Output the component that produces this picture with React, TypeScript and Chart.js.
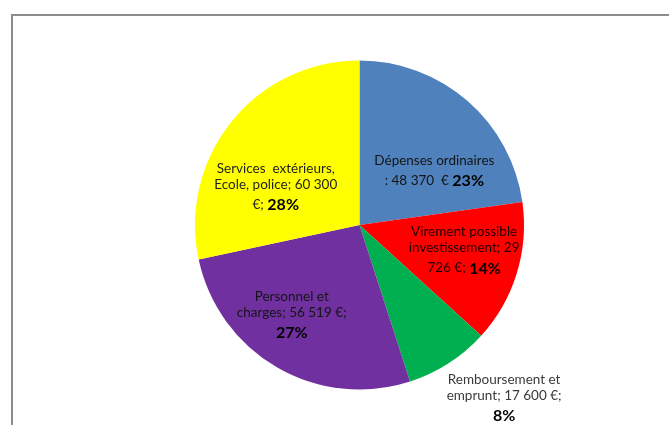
import React, { useEffect, useRef } from "react";
import { Chart, registerables } from "chart.js";

Chart.register(...registerables);

const categories = [
  "Dépenses ordinaires",
  "Virement possible investissement",
  "Remboursement et emprunt",
  "Personnel et charges",
  "Services  extérieurs, Ecole, police",
];
const values = [48370, 29726, 17600, 56519, 60300];
const colors = ["#4F81BD", "#FF0000", "#00B050", "#7030A0", "#FFFF00"];

const fmt = (v: number) => String(v).replace(/\B(?=(\d{3})+(?!\d))/g, " ");

type Seg = { t: string; b?: boolean };

function buildLines(i: number, pct: string): Seg[][] {
  const v = fmt(values[i]);
  switch (i) {
    case 0:
      return [[{ t: "Dépenses ordinaires" }], [{ t: ": " + v + "  € " }, { t: pct, b: true }]];
    case 1: {
      const parts = v.split(" ");
      return [
        [{ t: "Virement possible" }],
        [{ t: "investissement; " + parts[0] }],
        [{ t: parts[1] + " €; " }, { t: pct, b: true }],
      ];
    }
    case 2:
      return [[{ t: "Remboursement et" }], [{ t: "emprunt; " + v + " €;" }], [{ t: pct, b: true }]];
    case 3:
      return [[{ t: "Personnel et" }], [{ t: "charges; " + v + " €;" }], [{ t: pct, b: true }]];
    default:
      return [
        [{ t: "Services  extérieurs," }],
        [{ t: "Ecole, police; " + v }],
        [{ t: "€; " }, { t: pct, b: true }],
      ];
  }
}

// label anchor (first line) relative to pie centre, in units of the radius
const labelAnchors: [number, number][] = [
  [0.455, -0.394],
  [0.636, 0.042],
  [0.879, 0.939],
  [-0.412, 0.436],
  [-0.509, -0.345],
];
const labelColors = ["#141414", "#1f0000", "#3a3a3a", "#141414", "#1f1f1f"];

const FONT = "Lato, 'Open Sans', sans-serif";
const NORMAL = `13.5px ${FONT}`;
const BOLD = `bold 16px ${FONT}`;

const labelPlugin = {
  id: "sliceLabels",
  afterDatasetsDraw(chart: any) {
    const ctx = chart.ctx as CanvasRenderingContext2D;
    const meta = chart.getDatasetMeta(0);
    const total = values.reduce((a, b) => a + b, 0);
    meta.data.forEach((arc: any, i: number) => {
      const { x, y, outerRadius } = arc.getProps(["x", "y", "outerRadius"], true);
      const pct = Math.round((values[i] / total) * 100) + "%";
      const lines = buildLines(i, pct);
      const ax = x + labelAnchors[i][0] * outerRadius;
      let ly = y + labelAnchors[i][1] * outerRadius;
      ctx.save();
      ctx.textBaseline = "middle";
      lines.forEach((line, li) => {
        const hasBold = line.some((s) => s.b);
        if (li > 0) ly += hasBold ? 20 : 16;
        let w = 0;
        const widths = line.map((s) => {
          ctx.font = s.b ? BOLD : NORMAL;
          const m = ctx.measureText(s.t).width;
          w += m;
          return m;
        });
        let cx = ax - w / 2;
        line.forEach((s, si) => {
          ctx.font = s.b ? BOLD : NORMAL;
          ctx.fillStyle = s.b ? "#000000" : labelColors[i];
          ctx.textAlign = "left";
          ctx.fillText(s.t, cx, ly + (s.b ? 0.5 : 0));
          cx += widths[si];
        });
      });
      ctx.restore();
    });
  },
};

export default function App() {
  const ref = useRef<HTMLCanvasElement>(null);
  useEffect(() => {
    if (!ref.current) return;
    const chart = new Chart(ref.current, {
      type: "pie",
      data: {
        labels: categories,
        datasets: [
          {
            data: values,
            backgroundColor: colors,
            borderWidth: 0,
          },
        ],
      },
      options: {
        responsive: false,
        animation: false,
        layout: { padding: { left: 195, right: 145, top: 60, bottom: 35 } },
        plugins: {
          legend: { display: false },
          tooltip: { enabled: false },
        },
      },
      plugins: [labelPlugin],
    });
    return () => chart.destroy();
  }, []);
  return (
    <div
      style={{
        position: "fixed",
        left: 0,
        top: 0,
        width: 669,
        height: 425,
        background: "#ffffff",
        overflow: "hidden",
      }}
    >
      <div
        style={{
          position: "absolute",
          left: 11,
          top: 14,
          width: 700,
          height: 500,
          borderLeft: "2px solid #8c8c8c",
          borderTop: "2px solid #8c8c8c",
        }}
      />
      <canvas
        ref={ref}
        width={669}
        height={425}
        style={{ position: "absolute", left: 0, top: 0, width: 669, height: 425 }}
      />
    </div>
  );
}
